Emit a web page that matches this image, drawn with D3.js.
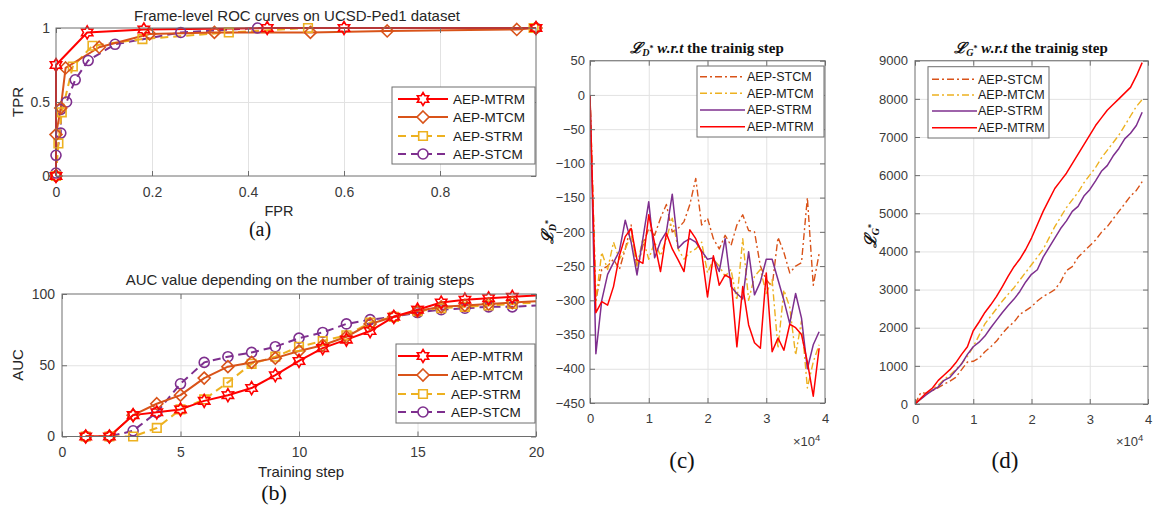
<!DOCTYPE html>
<html><head><meta charset="utf-8">
<script src="https://cdn.jsdelivr.net/npm/d3@7"></script>
<style>body{margin:0;background:#fff}</style>
</head><body>
<svg id="fig" width="1156" height="511"></svg>
<script>
// ---------------- DATA ----------------
const seriesNames = ["AEP-MTRM", "AEP-MTCM", "AEP-STRM", "AEP-STCM"];

// (a) ROC points [FPR, TPR]
const rocMTRM = [[0,0],[0,0.75],[0.065,0.97],[0.183,0.99],[0.44,1.0],[0.6,1.0],[1,1]];
const rocMTCM = [[0,0],[0,0.28],[0.01,0.46],[0.02,0.73],[0.09,0.87],[0.195,0.96],[0.33,0.97],[0.53,0.97],[0.69,0.98],[0.96,0.99],[1,1]];
const rocSTRM = [[0,0],[0.005,0.22],[0.012,0.43],[0.035,0.74],[0.076,0.88],[0.18,0.925],[0.36,0.97],[0.525,1.0],[0.995,1.0]];
const rocSTCM = [[0,0],[0,0.02],[0,0.14],[0.01,0.29],[0.01,0.45],[0.022,0.5],[0.04,0.65],[0.067,0.78],[0.123,0.89],[0.26,0.97],[0.42,1.0],[1,1]];
const rocXTicks = [0, 0.2, 0.4, 0.6, 0.8];
const rocYTicks = [0, 0.5, 1];

// (b) AUC vs training step
const aucSteps = [1,2,3,4,5,6,7,8,9,10,11,12,13,14,15,16,17,18,19,20];
const aucMTRM = [0,0,15,17,19,25,29,34,43,53,62,68,74,84,89,94,96,97,98,99];
const aucMTCM = [0,0,15,23,29,41,49,52,55,60,64,70,79,84,88,91,92,93,94,95];
const aucSTRM = [0,0,0,6,19,26,38,51,56,63,67,71,80,84,88,90,91,92,93,94];
const aucSTCM = [0,0,4,17,37,52,56,59,63,69,73,79,82,84,87,89,90,91,91,92];
const aucXTicks = [0, 5, 10, 15, 20];
const aucYTicks = [0, 50, 100];

// (c),(d) training steps (x 10^4)
const lossSteps = [0,0.1,0.2,0.3,0.4,0.5,0.6,0.7,0.8,0.9,1.0,1.1,1.2,1.3,1.4,1.5,1.6,1.7,1.8,1.9,
                   2.0,2.1,2.2,2.3,2.4,2.5,2.6,2.7,2.8,2.9,3.0,3.1,3.2,3.3,3.4,3.5,3.6,3.7,3.8,3.9];
// (c) L_D*
const ldSTCM = [0,-300,-255,-250,-240,-255,-225,-190,-255,-220,-195,-205,-180,-160,-200,-195,-185,-160,-122,-190,
                -180,-210,-225,-205,-220,-190,-175,-198,-200,-250,-270,-280,-208,-230,-260,-250,-245,-150,-278,-232];
const ldMTCM = [0,-300,-230,-255,-215,-240,-225,-205,-250,-210,-240,-215,-235,-210,-180,-225,-240,-230,-225,-215,
                -260,-240,-250,-265,-255,-300,-210,-300,-265,-255,-290,-270,-370,-285,-310,-380,-330,-428,-390,-365];
const ldSTRM = [0,-378,-300,-262,-245,-228,-183,-215,-263,-210,-156,-238,-214,-200,-145,-224,-215,-210,-215,-228,
                -240,-238,-258,-210,-280,-290,-298,-229,-292,-273,-240,-240,-270,-300,-334,-290,-326,-400,-365,-346];
const ldMTRM = [0,-318,-302,-307,-280,-235,-207,-195,-241,-246,-175,-217,-258,-202,-225,-241,-258,-197,-210,-230,
                -295,-235,-278,-263,-268,-368,-280,-336,-362,-370,-260,-375,-355,-373,-335,-340,-350,-390,-440,-370];
const ldXTicks = [0,1,2,3,4];
const ldYTicks = [50,0,-50,-100,-150,-200,-250,-300,-350,-400,-450];
// (d) L_G*
const lgSTCM = [0,300,280,350,430,520,600,700,900,1100,1120,1200,1370,1500,1650,1850,2020,2150,2350,2450,
                2550,2700,2820,2900,3000,3200,3500,3600,3850,4000,4150,4300,4500,4650,4850,5050,5250,5450,5600,5830];
const lgMTCM = [0,130,260,380,500,640,760,900,1060,1250,1500,1800,2100,2300,2500,2700,2880,3050,3250,3450,
                3650,3850,4050,4350,4650,4900,5150,5350,5550,5800,6000,6200,6450,6650,6850,7050,7300,7550,7800,7980];
const lgSTRM = [0,130,250,360,450,620,700,880,1050,1300,1500,1620,1780,2000,2200,2400,2580,2750,2950,3200,
                3400,3520,3850,4100,4350,4600,4800,5050,5180,5450,5620,5850,6100,6250,6500,6700,6950,7100,7300,7650];
const lgMTRM = [0,150,300,420,620,760,900,1080,1300,1500,1920,2150,2400,2600,2820,3080,3350,3600,3800,4050,
                4350,4700,5050,5350,5650,5850,6050,6300,6550,6800,7050,7300,7500,7700,7850,8000,8150,8300,8600,8950];
const lgXTicks = [0,1,2,3,4];
const lgYTicks = [0,1000,2000,3000,4000,5000,6000,7000,8000,9000];

// ---------------- STYLE ----------------
const C_RED = "#ff0000", C_ORANGE = "#d95319", C_YELLOW = "#edb120", C_PURPLE = "#7e2f8e";
const SANS = "'Liberation Sans', Arial, Helvetica, sans-serif";
const SERIF = "'Liberation Serif', 'Times New Roman', serif";
const TICKC = "#3a3a3a";

const svg = d3.select("#fig");
svg.append("rect").attr("width",1156).attr("height",511).attr("fill","#fff");

// markers
function markerPath(type, r) {
  const p = d3.path();
  if (type === "hex") {
    for (let i = 0; i < 12; i++) {
      const a = -Math.PI/2 + i*Math.PI/6, rr = (i % 2) ? r*0.577 : r;
      const px = rr*Math.cos(a), py = rr*Math.sin(a);
      i ? p.lineTo(px, py) : p.moveTo(px, py);
    }
    p.closePath();
  } else if (type === "diamond") {
    p.moveTo(0,-r); p.lineTo(r,0); p.lineTo(0,r); p.lineTo(-r,0); p.closePath();
  } else if (type === "square") {
    p.rect(-r,-r,2*r,2*r);
  } else if (type === "circle") {
    p.moveTo(r,0); p.arc(0,0,r,0,2*Math.PI);
  }
  return p.toString();
}

let clipId = 0;
function makePanel(o) {
  const g = svg.append("g");
  const x = d3.scaleLinear().domain(o.xDom).range([o.L, o.R]);
  const y = d3.scaleLinear().domain(o.yDom).range([o.B, o.T]);
  const W = o.R - o.L, H = o.B - o.T;
  // grid
  const gx = g.append("g").attr("transform",`translate(0,${o.B})`)
    .call(d3.axisBottom(x).tickValues(o.xGrid).tickSize(-H).tickFormat(""));
  const gy = g.append("g").attr("transform",`translate(${o.L},0)`)
    .call(d3.axisLeft(y).tickValues(o.yGrid).tickSize(-W).tickFormat(""));
  [gx, gy].forEach(a => { a.select(".domain").remove(); a.selectAll("line").attr("stroke","#e2e2e2").attr("stroke-width",1); });
  // clip
  const id = "clip" + (clipId++);
  g.append("clipPath").attr("id", id).append("rect").attr("x",o.L).attr("y",o.T).attr("width",W).attr("height",H);
  const plot = g.append("g");
  if (o.clip) plot.attr("clip-path", `url(#${id})`);
  const over = g.append("g");
  // axes
  const ax = g.append("g").attr("transform",`translate(0,${o.B})`)
    .call(d3.axisBottom(x).tickValues(o.xTicks).tickFormat(o.fx).tickSizeInner(-5).tickSizeOuter(0).tickPadding(o.xPad));
  const axT = g.append("g").attr("transform",`translate(0,${o.T})`)
    .call(d3.axisTop(x).tickValues(o.xTicks).tickFormat("").tickSizeInner(-5).tickSizeOuter(0));
  const ay = g.append("g").attr("transform",`translate(${o.L},0)`)
    .call(d3.axisLeft(y).tickValues(o.yTicks).tickFormat(o.fy).tickSizeInner(-5).tickSizeOuter(0).tickPadding(o.yPad));
  const ayR = g.append("g").attr("transform",`translate(${o.R},0)`)
    .call(d3.axisRight(y).tickValues(o.yTicks).tickFormat("").tickSizeInner(-5).tickSizeOuter(0));
  [ax, axT, ay, ayR].forEach(a => {
    a.select(".domain").remove();
    a.selectAll("line").attr("stroke","#6e6e6e");
    a.selectAll("text").attr("fill",TICKC).style("font-family",SANS).style("font-size", (o.fs||13) + "px");
  });
  g.append("rect").attr("x",o.L).attr("y",o.T).attr("width",W).attr("height",H)
    .attr("fill","none").attr("stroke","#6e6e6e").attr("stroke-width",1);
  return {g, x, y, plot, over};
}

function drawSeries(P, pts, s, markersFilter) {
  const line = d3.line().x(d => P.x(d[0])).y(d => P.y(d[1]));
  P.plot.append("path").datum(pts).attr("d", line).attr("fill","none")
    .attr("stroke", s.color).attr("stroke-width", s.lw)
    .attr("stroke-dasharray", s.dash || null).attr("stroke-linejoin","round");
  if (s.marker) {
    const mp = pts.filter(markersFilter || (() => true));
    P.over.selectAll(null).data(mp).enter().append("path")
      .attr("transform", d => `translate(${P.x(d[0])},${P.y(d[1])})`)
      .attr("d", markerPath(s.marker, s.mr)).attr("fill","none")
      .attr("stroke", s.color).attr("stroke-width", s.mlw || 1.6);
  }
}

function legend(box, rows, s) {
  const g = svg.append("g");
  g.append("rect").attr("x",box.x).attr("y",box.y).attr("width",box.w).attr("height",box.h)
    .attr("fill","#fff").attr("stroke","#6e6e6e").attr("stroke-width",1);
  rows.forEach((r, i) => {
    const yy = box.rowY[i];
    g.append("line").attr("x1",box.lx1).attr("x2",box.lx2).attr("y1",yy).attr("y2",yy)
      .attr("stroke", r.color).attr("stroke-width", r.lw).attr("stroke-dasharray", r.dash || null);
    if (r.marker) {
      g.append("path").attr("transform",`translate(${(box.lx1+box.lx2)/2},${yy})`)
        .attr("d", markerPath(r.marker, r.mr)).attr("fill","#fff")
        .attr("stroke", r.color).attr("stroke-width", r.mlw || 1.6);
    }
    g.append("text").attr("x", box.tx).attr("y", yy).attr("dy","0.35em")
      .style("font-family",SANS).style("font-size", box.fs + "px").attr("fill","#1a1a1a").text(r.name);
  });
}

function txt(x, y, t, opt) {
  const e = svg.append("text").attr("x",x).attr("y",y).attr("text-anchor", (opt && opt.anchor) || "middle")
    .style("font-family", (opt && opt.ff) || SANS).style("font-size", ((opt && opt.fs) || 15) + "px")
    .attr("fill", (opt && opt.fill) || "#262626").text(t);
  if (opt && opt.rot) e.attr("transform", `rotate(${opt.rot},${x},${y})`);
  return e;
}

// ---------------- (a) ROC ----------------
const styA = [
  {color:C_RED, lw:2, marker:"hex", mr:6.5},
  {color:C_ORANGE, lw:2, marker:"diamond", mr:6},
  {color:C_YELLOW, lw:2, dash:"8,5", marker:"square", mr:4.3},
  {color:C_PURPLE, lw:2, dash:"8,5", marker:"circle", mr:5}
];
const PA = makePanel({L:56, R:536, T:28, B:176, xDom:[0,1], yDom:[0,1],
  xTicks:rocXTicks, yTicks:rocYTicks, xGrid:[0.2,0.4,0.6,0.8], yGrid:[0.5],
  fx:d3.format(""), fy:d3.format(""), xPad:11, yPad:6, fs:14, clip:false});
[rocSTCM, rocSTRM, rocMTCM, rocMTRM].forEach((d, i) => drawSeries(PA, d, styA[3-i]));
txt(297, 20.5, "Frame-level ROC curves on UCSD-Ped1 dataset", {fs:15});
txt(23, 102, "TPR", {fs:15, rot:-90});
txt(279, 216, "FPR", {fs:14.5});
txt(260, 236, "(a)", {ff:SERIF, fs:20, fill:"#111"});
legend({x:392, y:87, w:143, h:77, rowY:[99,117,136,154], lx1:398, lx2:448, tx:453, fs:13.5},
  seriesNames.map((n,i) => Object.assign({name:n}, styA[i])));

// ---------------- (b) AUC ----------------
const PB = makePanel({L:62, R:536, T:294, B:436.5, xDom:[0,20], yDom:[0,100],
  xTicks:aucXTicks, yTicks:aucYTicks, xGrid:[5,10,15], yGrid:[50],
  fx:d3.format(""), fy:d3.format(""), xPad:11, yPad:7, fs:14, clip:true});
const aucAll = [aucMTRM, aucMTCM, aucSTRM, aucSTCM];
[3,2,1,0].forEach(i => drawSeries(PB, aucSteps.map((s,k) => [s, aucAll[i][k]]), styA[i], d => d[0] < 20));
txt(300, 285, "AUC value depending on the number of trainig steps", {fs:15});
txt(23, 365, "AUC", {fs:15, rot:-90});
txt(301, 477, "Training step", {fs:15});
txt(274, 500, "(b)", {ff:SERIF, fs:22, fill:"#111"});
legend({x:396, y:344, w:139, h:79, rowY:[356,375,394,412], lx1:398, lx2:448, tx:451, fs:13.5},
  seriesNames.map((n,i) => Object.assign({name:n}, styA[i])));

// ---------------- (c) L_D ----------------
const styCD = {
  "AEP-STCM": {color:C_ORANGE, lw:1.4, dash:"7,3,2,3"},
  "AEP-MTCM": {color:C_YELLOW, lw:1.4, dash:"7,3,2,3"},
  "AEP-STRM": {color:C_PURPLE, lw:1.5},
  "AEP-MTRM": {color:C_RED, lw:1.5}
};
const legOrder = ["AEP-STCM","AEP-MTCM","AEP-STRM","AEP-MTRM"];
const PC = makePanel({L:590, R:825, T:60.7, B:403, xDom:[0,4], yDom:[-450,50],
  xTicks:ldXTicks, yTicks:ldYTicks, xGrid:[1,2,3], yGrid:ldYTicks,
  fx:d3.format(""), fy:d3.format(""), xPad:11, yPad:5, fs:13, clip:true});
const ldMap = {"AEP-STCM":ldSTCM, "AEP-MTCM":ldMTCM, "AEP-STRM":ldSTRM, "AEP-MTRM":ldMTRM};
legOrder.forEach(n => drawSeries(PC, lossSteps.map((s,k) => [s, ldMap[n][k]]), styCD[n]));
legend({x:697, y:66, w:127, h:71, rowY:[76.7,93.3,110,126.7], lx1:700, lx2:745, tx:747, fs:12.5},
  legOrder.map(n => Object.assign({name:n}, styCD[n])));

function lossTitle(cx, cy, sub) {
  const t = svg.append("text").attr("x",cx).attr("y",cy).attr("text-anchor","middle")
    .style("font-family",SERIF).style("font-size","15px").style("font-weight","bold").attr("fill","#111");
  t.append("tspan").style("font-family","'DejaVu Serif', serif").style("font-style","italic").style("font-size","15px").text("ℒ");
  t.append("tspan").attr("dy",3).style("font-style","italic").style("font-size","10px").text(sub);
  t.append("tspan").attr("dy",-5).style("font-size","8px").text("*");
  t.append("tspan").attr("dy",2).style("font-style","italic").text(" w.r.t");
  t.append("tspan").text(" the trainig step");
}
function lossYLabel(cx, cy, sub) {
  const t = svg.append("text").attr("x",cx).attr("y",cy).attr("text-anchor","middle")
    .attr("transform",`rotate(-90,${cx},${cy})`)
    .style("font-family",SERIF).style("font-size","16px").style("font-weight","bold").attr("fill","#111");
  t.append("tspan").style("font-family","'DejaVu Serif', serif").style("font-style","italic").text("ℒ");
  t.append("tspan").attr("dy",3).style("font-style","italic").style("font-size","10px").text(sub);
  t.append("tspan").attr("dy",-5).style("font-size","8px").text("*");
}
function expLabel(x, y) {
  const t = svg.append("text").attr("x",x).attr("y",y).attr("text-anchor","start")
    .style("font-family",SANS).style("font-size","13px").attr("fill",TICKC);
  t.append("tspan").text("×10");
  t.append("tspan").attr("dy",-5).style("font-size","9.5px").text("4");
}
lossTitle(707, 53, "D");
lossYLabel(553, 232, "D");
expLabel(793, 446);
txt(682, 468, "(c)", {ff:SERIF, fs:23, fill:"#111"});

// ---------------- (d) L_G ----------------
const PD = makePanel({L:915, R:1148, T:60.7, B:404, xDom:[0,4], yDom:[0,9000],
  xTicks:lgXTicks, yTicks:lgYTicks, xGrid:[1,2,3], yGrid:lgYTicks,
  fx:d3.format(""), fy:d3.format(""), xPad:11, yPad:7, fs:13, clip:true});
const lgMap = {"AEP-STCM":lgSTCM, "AEP-MTCM":lgMTCM, "AEP-STRM":lgSTRM, "AEP-MTRM":lgMTRM};
legOrder.forEach(n => drawSeries(PD, lossSteps.map((s,k) => [s, lgMap[n][k]]), styCD[n]));
legend({x:928, y:66.7, w:121, h:71.3, rowY:[79.3,95,111,127.7], lx1:932, lx2:977, tx:978, fs:12.5},
  legOrder.map(n => Object.assign({name:n}, styCD[n])));
lossTitle(1031, 53, "G");
lossYLabel(876, 236, "G");
expLabel(1116, 446);
txt(1005, 468, "(d)", {ff:SERIF, fs:23, fill:"#111"});
</script>
</body></html>
